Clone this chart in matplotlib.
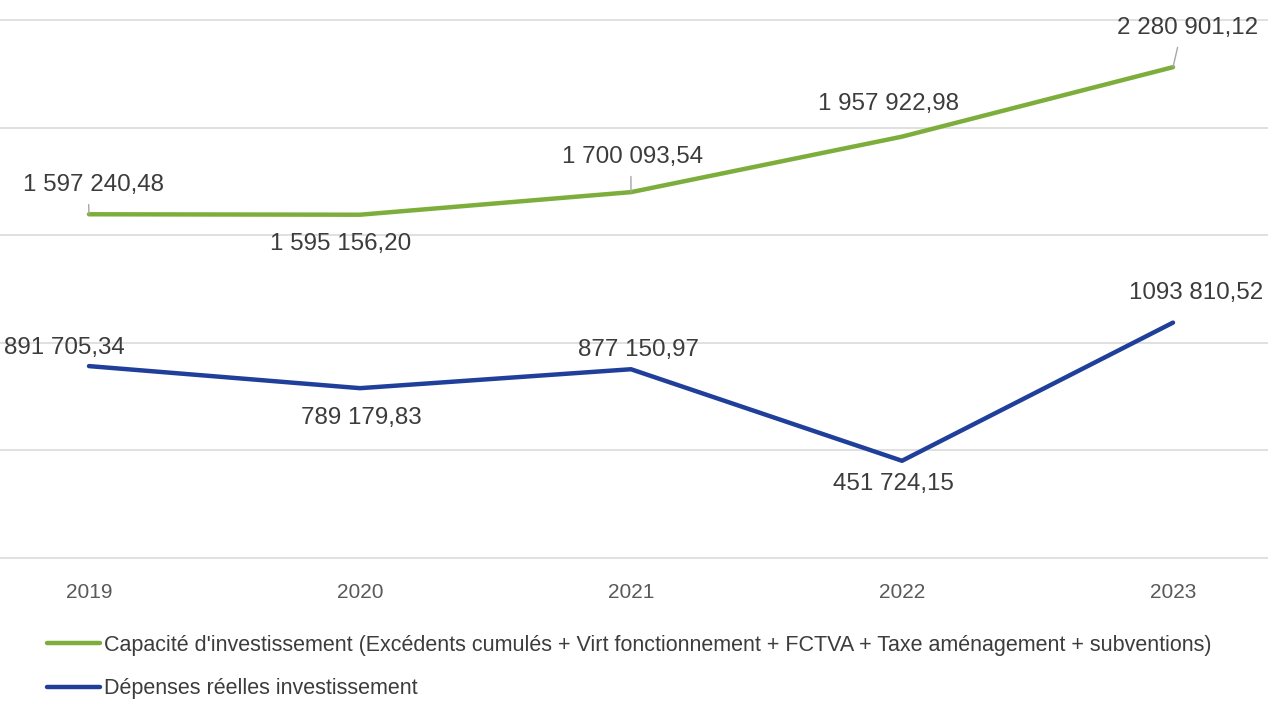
import matplotlib
matplotlib.use("Agg")
import matplotlib.pyplot as plt

plt.rcParams['font.family'] = ['Liberation Sans', 'DejaVu Sans']

years = ["2019", "2020", "2021", "2022", "2023"]
capacite = [1597240.48, 1595156.20, 1700093.54, 1957922.98, 2280901.12]
depenses = [891705.34, 789179.83, 877150.97, 451724.15, 1093810.52]
label_capacite = ("Capacité d'investissement (Excédents cumulés + Virt fonctionnement "
                  "+ FCTVA + Taxe aménagement + subventions)")
label_depenses = "Dépenses réelles investissement"

GREEN = "#7DAE3C"
BLUE = "#1F3F9A"
TEXT = "#3c3c3c"

# label offsets in pixels (dx, dy); leader relpos along the label's bottom edge
cap_offsets = [(5, 29), (-19, -29), (2, 35), (-13, 33), (15, 39)]
cap_leaders = [0.46, None, 0.485, None, 0.44]
dep_offsets = [(-25, 18), (1, -30), (8, 19), (-9, -23), (23, 30)]


def fmt(v):
    # French style: space thousands separator, comma decimals
    s = f"{v:,.2f}"
    return s.replace(",", " ").replace(".", ",")


fig = plt.figure(figsize=(12.68, 7.02), dpi=100)
ax = fig.add_axes([0, 144 / 702, 1, 558 / 702])

x = list(range(len(years)))
ax.plot(x, capacite, color=GREEN, lw=3.2, solid_capstyle="round",
        solid_joinstyle="round", label=label_capacite, zorder=3)
ax.plot(x, depenses, color=BLUE, lw=3.2, solid_capstyle="round",
        solid_joinstyle="round", label=label_depenses, zorder=3)

ax.set_xlim(-89 / 271, 4 + 95 / 271)
ax.set_ylim(0, 2.5e6 + 20 / 107.6 * 5e5)
ax.set_yticks([0, 5e5, 1e6, 1.5e6, 2e6, 2.5e6])
ax.grid(axis="y", color="#e0e0e0", lw=1.4)
ax.set_axisbelow(True)
ax.tick_params(axis="y", left=False, labelleft=False)
ax.set_xticks(x)
ax.set_xticklabels(years, fontsize=15, color="#595959")
ax.tick_params(axis="x", length=0, pad=18)
for side in ["top", "right", "left"]:
    ax.spines[side].set_visible(False)
ax.spines["bottom"].set_color("#e0e0e0")
ax.spines["bottom"].set_linewidth(1.4)

for i, v in enumerate(capacite):
    dx, dy = cap_offsets[i]
    kw = {}
    if cap_leaders[i] is not None:
        kw["arrowprops"] = dict(arrowstyle="-", color="#a6a6a6", lw=1,
                                shrinkA=4, shrinkB=0,
                                relpos=(cap_leaders[i], 0))
    ax.annotate(fmt(v), (i, v), xytext=(dx, dy), textcoords="offset pixels",
                ha="center", va="center", fontsize=17.4, color=TEXT, **kw)

for i, v in enumerate(depenses):
    dx, dy = dep_offsets[i]
    txt = fmt(v)
    if i == 4:
        txt = txt.replace(" ", "", 1)
    ax.annotate(txt, (i, v), xytext=(dx, dy), textcoords="offset pixels",
                ha="center", va="center", fontsize=17.4, color=TEXT)

fig.legend(loc="center left", bbox_to_anchor=(47 / 1268, 35 / 702),
           frameon=False, fontsize=15.5, handlelength=2.45, handletextpad=0.2,
           labelspacing=1.05, borderpad=0, borderaxespad=0, labelcolor=TEXT)

fig.savefig("out.png", dpi=100, facecolor="white")
